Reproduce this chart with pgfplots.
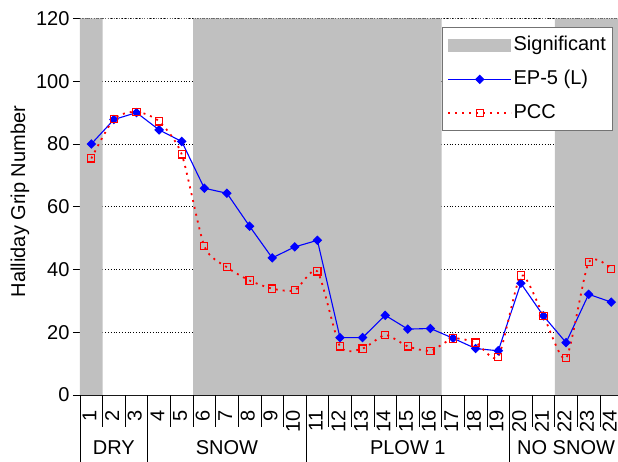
\documentclass[border=0pt]{standalone}
\usepackage{fontspec}
\setmainfont{Liberation Sans}
\usepackage{pgfplots}
\pgfplotsset{compat=1.18}
\definecolor{sig}{RGB}{192,192,192}
\definecolor{epblue}{RGB}{0,0,255}
\definecolor{pccred}{RGB}{255,0,0}
\newcommand\fs{\fontsize{20}{24}\selectfont}
\begin{document}
\begin{tikzpicture}[font=\fs]
\path[use as bounding box] (-80pt,-66pt) rectangle (538pt,395pt);
\begin{axis}[
  scale only axis, width=542.6pt, height=376.5pt,
  xmin=0.5, xmax=24.5, ymin=0, ymax=120,
  clip=false,
  axis lines*=left,
  axis line style={black, line width=0.9pt},
  /pgf/number format/assume math mode=true,
  xtick={1,...,24},
  xtick style={draw=none},
  major x tick style={draw=none},
  x tick label style={rotate=90, anchor=east, xshift=-5pt, yshift=1.7pt, font=\fs},
  ytick={0,20,...,120},
  tick align=outside,
  major tick length=7pt,
  ytick style={black, line width=0.8pt},
  y tick label style={font=\fs},
  ymajorgrids,
  grid style={black, line width=0.7pt, dash pattern=on 0.8pt off 2pt},
  ylabel={Halliday Grip Number},
  ylabel style={at={(axis description cs:-0.1106,0.514)}, anchor=center, font=\fs},
  legend image code/.code={\draw[mark repeat=2,mark phase=2,#1] plot coordinates {(0pt,0pt) (31.5pt,0pt) (63pt,0pt)};},
  legend style={at={(axis cs:16.5,120)}, anchor=north west, yshift=-8.7pt,
    draw=black!55, line width=1.2pt, fill=white, font=\fs,
    inner xsep=5pt, inner ysep=7pt, row sep=13pt,
    nodes={text height=14pt, text depth=4pt, inner sep=1.5pt},
    /tikz/every even column/.append style={column sep=7pt}},
  legend cell align=left,
]
\addplot[ybar interval, fill=sig, draw=none,
  legend image code/.code={\fill[sig] (0pt,-6.5pt) rectangle (63pt,6.5pt);}]
  coordinates {(0.5,120) (1.5,0) (5.5,120) (16.5,0) (21.5,120) (24.5,120)};
\addlegendentry{Significant}
\addplot[epblue, line width=1.1pt, mark=diamond*, mark size=4pt,
  mark options={xscale=1.33, solid, fill=epblue}]
  coordinates {(1,80.0) (2,87.8) (3,90.0) (4,84.5) (5,80.8) (6,65.9) (7,64.3) (8,53.8)
  (9,43.7) (10,47.2) (11,49.3) (12,18.3) (13,18.3) (14,25.4) (15,21.0) (16,21.2)
  (17,18.1) (18,14.8) (19,14.1) (20,35.6) (21,25.2) (22,16.7) (23,32.1) (24,29.6)};
\addlegendentry{EP-5 (L)}
\addplot[pccred, line width=1.8pt, dash pattern=on 2pt off 5pt, smooth, tension=0.4,
  mark=square, mark size=3.6pt, mark options={solid, line width=1.1pt, fill=none}]
  coordinates {(1,75.4) (2,88.0) (3,90.3) (4,87.2) (5,76.7) (6,47.4) (7,40.7) (8,36.5)
  (9,33.9) (10,33.4) (11,39.4) (12,15.5) (13,14.8) (14,19.1) (15,15.5) (16,14.1)
  (17,18.0) (18,16.7) (19,12.2) (20,38.1) (21,25.2) (22,11.7) (23,42.3) (24,40.2)};
\addlegendentry{PCC}
% top border line at 120
\draw[black!60, line width=0.7pt, dash pattern=on 0.8pt off 1.5pt] (axis cs:0.5,120) -- (axis cs:24.5,120);
% category separators
\pgfplotsinvokeforeach{1.5,2.5,4.5,5.5,6.5,7.5,8.5,9.5,11.5,12.5,13.5,14.5,15.5,16.5,17.5,18.5,20.5,21.5,22.5,23.5}{
  \draw[black, line width=0.7pt] (axis cs:#1,0) -- ++(0pt,-32pt);
}
\pgfplotsinvokeforeach{3.5,10.5,19.5,24.5}{
  \draw[black, line width=0.7pt] (axis cs:#1,0) -- ++(0pt,-70pt);
}
\draw[black, line width=0.9pt] (axis cs:0.5,0) -- ++(0pt,-70pt);
\node[font=\fs, yshift=-53pt] at (axis cs:2,0) {DRY};
\node[font=\fs, yshift=-53pt] at (axis cs:7,0) {SNOW};
\node[font=\fs, yshift=-53pt] at (axis cs:15,0) {PLOW 1};
\node[font=\fs, yshift=-53pt] at (axis cs:22,0) {NO SNOW};
\end{axis}
\end{tikzpicture}
\end{document}
